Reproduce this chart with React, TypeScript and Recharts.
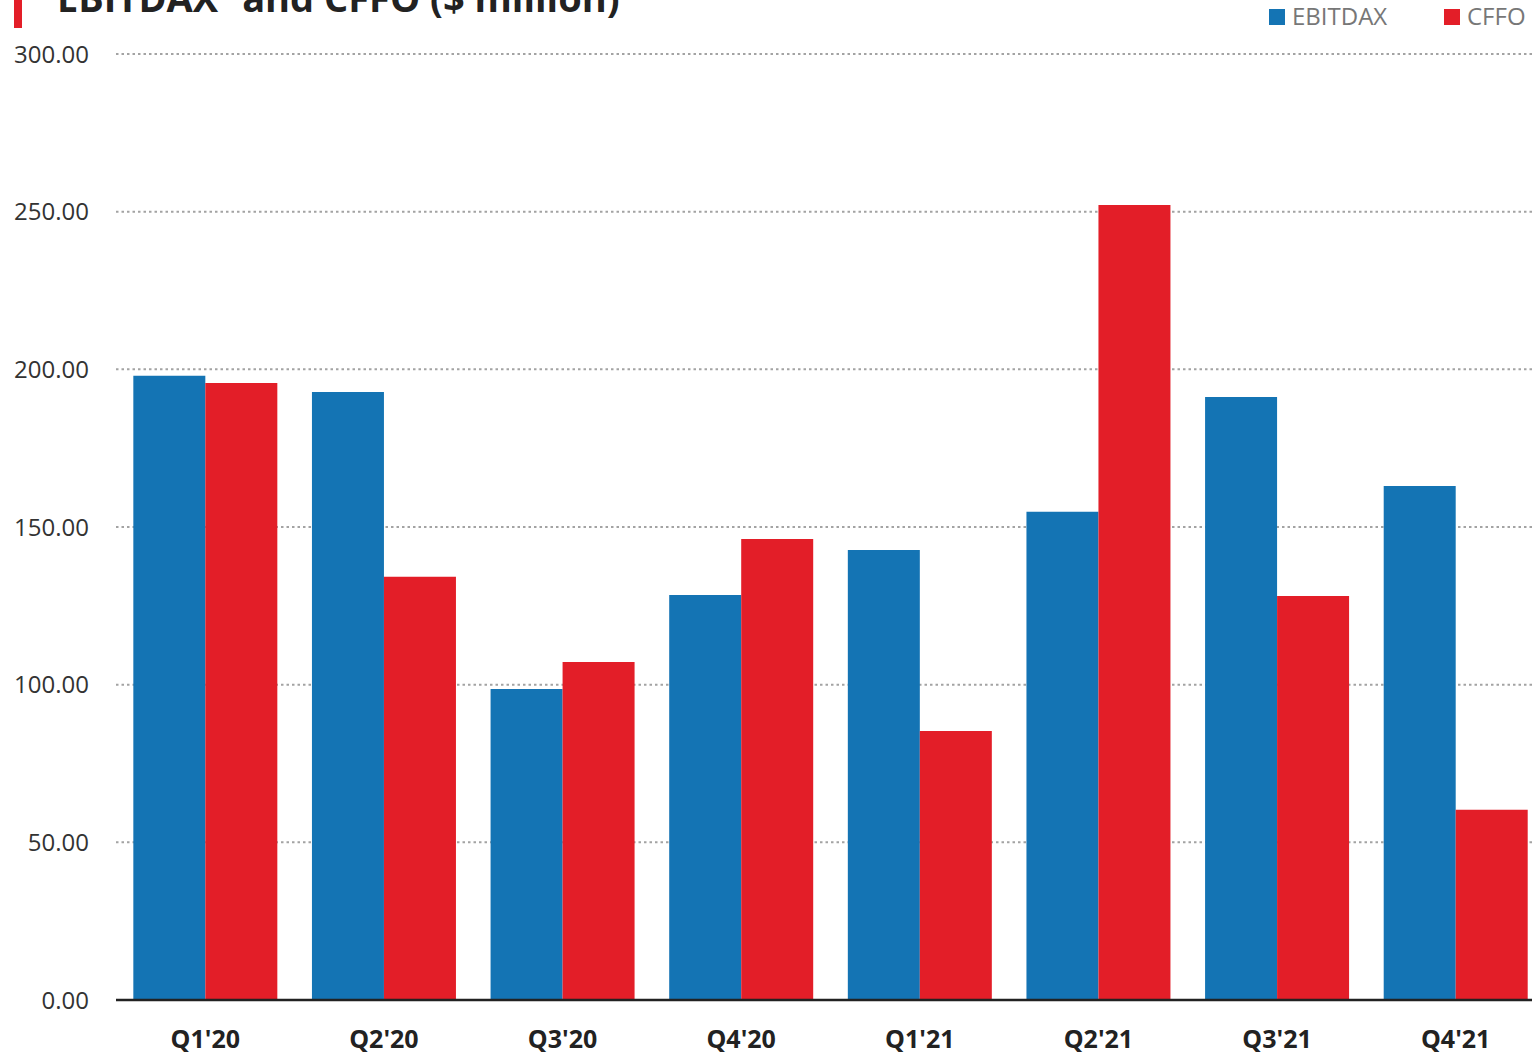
import React from 'react';
import { BarChart, Bar, XAxis, YAxis, CartesianGrid } from 'recharts';

const quarters = ["Q1'20", "Q2'20", "Q3'20", "Q4'20", "Q1'21", "Q2'21", "Q3'21", "Q4'21"];
const ebitdax = [198.0, 192.8, 98.6, 128.4, 142.7, 154.8, 191.2, 163.0];
const cffo = [195.7, 134.2, 107.2, 146.2, 85.3, 252.1, 128.1, 60.3];
const yTicks = [0, 50, 100, 150, 200, 250, 300];

const BLUE = '#1474b4';
const RED = '#e31e28';
const FONT = '"Open Sans", "Noto Sans", sans-serif';

const data = quarters.map((quarter, i) => ({
  quarter,
  ebitdax: ebitdax[i],
  cffo: cffo[i]
}));

const App: React.FC = () => {
  return (
    <div
      style={{
        position: 'fixed',
        left: 0,
        top: 0,
        width: 1532,
        height: 1052,
        overflow: 'hidden',
        background: '#fff',
        fontFamily: FONT
      }}
    >
      {/* title + legend, title is cut off at the top in the original */}
      <svg width={1532} height={40} style={{ position: 'absolute', left: 0, top: 0 }}>
        <rect x={14} y={0} width={8} height={28} fill={RED} />
        <text x={57} y={12} fontSize={38} fontWeight={700} fill="#222" fontFamily={FONT}>
          EBITDAX<tspan dy={-14} fontSize={26}>*</tspan>
          <tspan dy={14}> and CFFO ($ million)</tspan>
        </text>
        <rect x={1269} y={9} width={16} height={16} fill={BLUE} />
        <text x={1292} y={25} fontSize={24} fill="#777" fontFamily={FONT}>EBITDAX</text>
        <rect x={1444} y={9} width={16} height={16} fill={RED} />
        <text x={1467} y={25} fontSize={24} fill="#777" fontFamily={FONT}>CFFO</text>
      </svg>

      <div style={{ position: 'absolute', left: 0, top: 0 }}>
        <BarChart
          width={1545}
          height={1052}
          data={data}
          margin={{ top: 54, right: 0, left: 0, bottom: 0 }}
          barCategoryGap="9.7%"
          barGap={0}
        >
          <CartesianGrid vertical={false} stroke="#a3a3a3" strokeWidth={2} strokeDasharray="2.5 3" />
          <XAxis
            dataKey="quarter"
            interval={0}
            height={52}
            tickLine={false}
            tickSize={0}
            tickMargin={30}
            axisLine={{ stroke: '#222', strokeWidth: 2.5 }}
            tick={{ fontSize: 25, fontWeight: 700, fill: '#222', fontFamily: FONT }}
          />
          <YAxis
            width={116}
            domain={[0, 300]}
            ticks={yTicks}
            tickFormatter={(v: number) => v.toFixed(2)}
            axisLine={false}
            tickLine={false}
            tickSize={0}
            tickMargin={27}
            tick={{ fontSize: 24, fill: '#333', fontFamily: FONT }}
          />
          <Bar dataKey="ebitdax" name="EBITDAX" fill={BLUE} isAnimationActive={false} />
          <Bar dataKey="cffo" name="CFFO" fill={RED} isAnimationActive={false} />
        </BarChart>
      </div>
    </div>
  );
};

export default App;
